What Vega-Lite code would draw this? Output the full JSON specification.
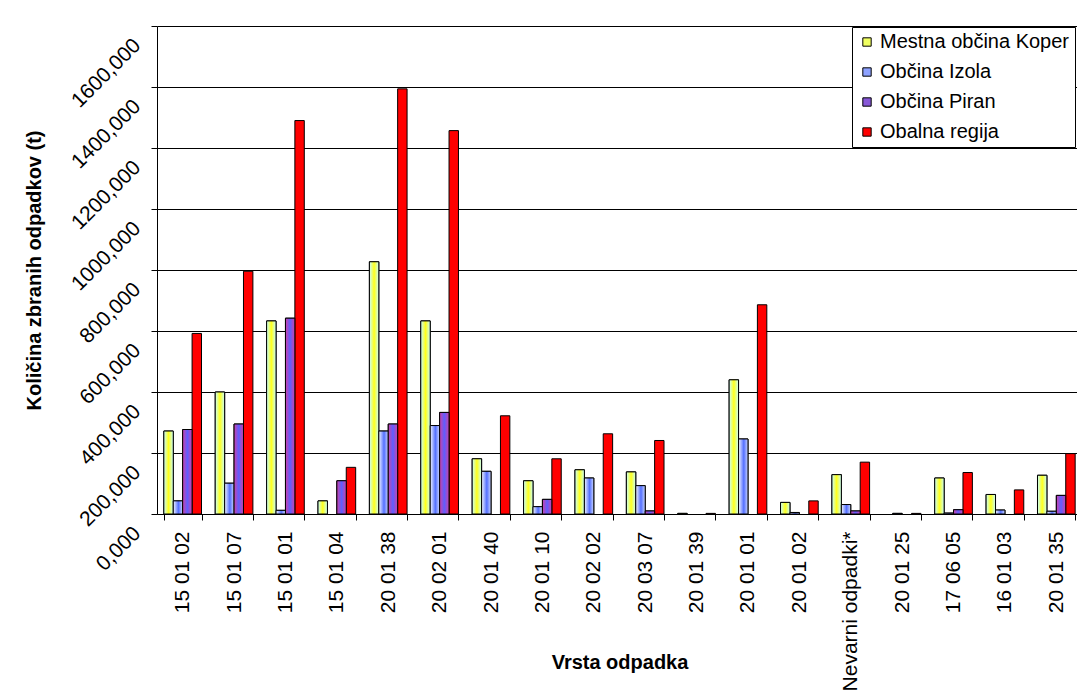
{
  "$schema": "https://vega.github.io/schema/vega-lite/v6.json",
  "autosize": "none",
  "padding": {"left": 157, "top": 26, "right": 0, "bottom": 179},
  "width": 920,
  "height": 488,
  "background": "white",
  "config": {
    "font": "Liberation Sans",
    "view": {"stroke": null},
    "axis": {
      "domainColor": "#000000",
      "tickColor": "#000000",
      "labelColor": "#000000",
      "titleColor": "#000000",
      "labelFont": "Liberation Sans",
      "titleFont": "Liberation Sans",
      "labelFontSize": 21,
      "titleFontSize": 20,
      "titleFontWeight": "bold",
      "tickSize": 6
    }
  },
  "data": {
    "values": [
      {"kod": "15 01 02", "obcina": "Mestna občina Koper", "kolicina": 272},
      {"kod": "15 01 02", "obcina": "Občina Izola", "kolicina": 43},
      {"kod": "15 01 02", "obcina": "Občina Piran", "kolicina": 277},
      {"kod": "15 01 02", "obcina": "Obalna regija", "kolicina": 592},
      {"kod": "15 01 07", "obcina": "Mestna občina Koper", "kolicina": 400},
      {"kod": "15 01 07", "obcina": "Občina Izola", "kolicina": 101},
      {"kod": "15 01 07", "obcina": "Občina Piran", "kolicina": 295},
      {"kod": "15 01 07", "obcina": "Obalna regija", "kolicina": 796},
      {"kod": "15 01 01", "obcina": "Mestna občina Koper", "kolicina": 633},
      {"kod": "15 01 01", "obcina": "Občina Izola", "kolicina": 12},
      {"kod": "15 01 01", "obcina": "Občina Piran", "kolicina": 642},
      {"kod": "15 01 01", "obcina": "Obalna regija", "kolicina": 1290},
      {"kod": "15 01 04", "obcina": "Mestna občina Koper", "kolicina": 43},
      {"kod": "15 01 04", "obcina": "Občina Piran", "kolicina": 109},
      {"kod": "15 01 04", "obcina": "Obalna regija", "kolicina": 153},
      {"kod": "20 01 38", "obcina": "Mestna občina Koper", "kolicina": 827},
      {"kod": "20 01 38", "obcina": "Občina Izola", "kolicina": 272},
      {"kod": "20 01 38", "obcina": "Občina Piran", "kolicina": 295},
      {"kod": "20 01 38", "obcina": "Obalna regija", "kolicina": 1394},
      {"kod": "20 02 01", "obcina": "Mestna občina Koper", "kolicina": 633},
      {"kod": "20 02 01", "obcina": "Občina Izola", "kolicina": 290},
      {"kod": "20 02 01", "obcina": "Občina Piran", "kolicina": 333},
      {"kod": "20 02 01", "obcina": "Obalna regija", "kolicina": 1257},
      {"kod": "20 01 40", "obcina": "Mestna občina Koper", "kolicina": 181},
      {"kod": "20 01 40", "obcina": "Občina Izola", "kolicina": 140},
      {"kod": "20 01 40", "obcina": "Obalna regija", "kolicina": 322},
      {"kod": "20 01 10", "obcina": "Mestna občina Koper", "kolicina": 109},
      {"kod": "20 01 10", "obcina": "Občina Izola", "kolicina": 24},
      {"kod": "20 01 10", "obcina": "Občina Piran", "kolicina": 48},
      {"kod": "20 01 10", "obcina": "Obalna regija", "kolicina": 181},
      {"kod": "20 02 02", "obcina": "Mestna občina Koper", "kolicina": 145},
      {"kod": "20 02 02", "obcina": "Občina Izola", "kolicina": 118},
      {"kod": "20 02 02", "obcina": "Obalna regija", "kolicina": 263},
      {"kod": "20 03 07", "obcina": "Mestna občina Koper", "kolicina": 138},
      {"kod": "20 03 07", "obcina": "Občina Izola", "kolicina": 93},
      {"kod": "20 03 07", "obcina": "Občina Piran", "kolicina": 10},
      {"kod": "20 03 07", "obcina": "Obalna regija", "kolicina": 241},
      {"kod": "20 01 39", "obcina": "Mestna občina Koper", "kolicina": 2},
      {"kod": "20 01 39", "obcina": "Obalna regija", "kolicina": 2},
      {"kod": "20 01 01", "obcina": "Mestna občina Koper", "kolicina": 440},
      {"kod": "20 01 01", "obcina": "Občina Izola", "kolicina": 246},
      {"kod": "20 01 01", "obcina": "Obalna regija", "kolicina": 686},
      {"kod": "20 01 02", "obcina": "Mestna občina Koper", "kolicina": 38},
      {"kod": "20 01 02", "obcina": "Občina Izola", "kolicina": 5},
      {"kod": "20 01 02", "obcina": "Obalna regija", "kolicina": 43},
      {"kod": "Nevarni odpadki*", "obcina": "Mestna občina Koper", "kolicina": 129},
      {"kod": "Nevarni odpadki*", "obcina": "Občina Izola", "kolicina": 31},
      {"kod": "Nevarni odpadki*", "obcina": "Občina Piran", "kolicina": 10},
      {"kod": "Nevarni odpadki*", "obcina": "Obalna regija", "kolicina": 170},
      {"kod": "20 01 25", "obcina": "Občina Izola", "kolicina": 2},
      {"kod": "20 01 25", "obcina": "Obalna regija", "kolicina": 2},
      {"kod": "17 06 05", "obcina": "Mestna občina Koper", "kolicina": 118},
      {"kod": "17 06 05", "obcina": "Občina Izola", "kolicina": 3},
      {"kod": "17 06 05", "obcina": "Občina Piran", "kolicina": 14},
      {"kod": "17 06 05", "obcina": "Obalna regija", "kolicina": 136},
      {"kod": "16 01 03", "obcina": "Mestna občina Koper", "kolicina": 64},
      {"kod": "16 01 03", "obcina": "Občina Izola", "kolicina": 13},
      {"kod": "16 01 03", "obcina": "Obalna regija", "kolicina": 79},
      {"kod": "20 01 35", "obcina": "Mestna občina Koper", "kolicina": 127},
      {"kod": "20 01 35", "obcina": "Občina Izola", "kolicina": 9},
      {"kod": "20 01 35", "obcina": "Občina Piran", "kolicina": 61},
      {"kod": "20 01 35", "obcina": "Obalna regija", "kolicina": 198}
    ]
  },
  "encoding": {
    "x": {
      "field": "kod",
      "type": "nominal",
      "sort": ["15 01 02", "15 01 07", "15 01 01", "15 01 04", "20 01 38", "20 02 01", "20 01 40", "20 01 10", "20 02 02", "20 03 07", "20 01 39", "20 01 01", "20 01 02", "Nevarni odpadki*", "20 01 25", "17 06 05", "16 01 03", "20 01 35"],
      "scale": {"range": [0, 925], "paddingInner": 0.267, "paddingOuter": 0.133},
      "axis": {
        "title": "Vrsta odpadka",
        "labelAngle": -90,
        "labelAlign": "right",
        "labelBaseline": "middle",
        "labelPadding": 11,
        "labelOverlap": false,
        "tickBand": "extent",
        "titleY": 148,
        "titleBaseline": "middle",
        "grid": false
      }
    },
    "xOffset": {
      "field": "obcina",
      "type": "nominal",
      "scale": {"domain": ["Mestna občina Koper", "Občina Izola", "Občina Piran", "Obalna regija"], "paddingInner": 0, "paddingOuter": 0}
    },
    "y": {
      "field": "kolicina",
      "type": "quantitative",
      "scale": {"domain": [0, 1600], "nice": false},
      "axis": {
        "title": "Količina zbranih odpadkov (t)",
        "values": [0, 200, 400, 600, 800, 1000, 1200, 1400, 1600],
        "labelExpr": "replace(format(datum.value, '.3f'), '.', ',')",
        "labelAngle": -45,
        "labelAlign": "right",
        "labelBaseline": "middle",
        "labelPadding": 14,
        "labelOffset": 16,
        "labelOverlap": false,
        "labelBound": false,
        "grid": true,
        "gridColor": "#000000",
        "gridWidth": 1,
        "titleX": -123,
        "titleY": 244,
        "titleAngle": -90,
        "titleAlign": "center",
        "titleBaseline": "middle"
      }
    }
  },
  "layer": [
    {
      "mark": {"type": "bar", "stroke": "#000000", "strokeWidth": 1},
      "encoding": {
        "color": {
          "field": "obcina",
          "type": "nominal",
          "scale": {
            "domain": ["Mestna občina Koper", "Občina Izola", "Občina Piran", "Obalna regija"],
            "range": ["#f0ff60", "#8ea2ff", "#8858d8", "#ff0000"]
          },
          "legend": {
            "title": null,
            "orient": "none",
            "legendX": 695,
            "legendY": 1,
            "fillColor": "#ffffff",
            "strokeColor": "#000000",
            "padding": 5,
            "symbolType": "square",
            "symbolSize": 70,
            "symbolStrokeColor": "#000000",
            "symbolStrokeWidth": 1,
            "symbolOpacity": 1,
            "labelFont": "Liberation Sans",
            "labelFontSize": 20,
            "labelColor": "#000000",
            "labelLimit": 400,
            "labelOffset": 3,
            "rowPadding": 10
          }
        }
      }
    },
    {
      "transform": [{"filter": "datum.obcina === 'Mestna občina Koper'"}],
      "mark": {
        "type": "bar",
        "stroke": "#000000",
        "strokeWidth": 1,
        "color": {"gradient": "linear", "x1": 0, "y1": 0, "x2": 1, "y2": 0, "stops": [{"offset": 0, "color": "#c8ffff"}, {"offset": 0.5, "color": "#ffff1a"}, {"offset": 1, "color": "#c8ffff"}]}
      }
    },
    {
      "transform": [{"filter": "datum.obcina === 'Občina Izola'"}],
      "mark": {
        "type": "bar",
        "stroke": "#000000",
        "strokeWidth": 1,
        "color": {"gradient": "linear", "x1": 0, "y1": 0, "x2": 1, "y2": 0, "stops": [{"offset": 0, "color": "#f2f5ff"}, {"offset": 0.55, "color": "#5470ff"}, {"offset": 1, "color": "#ccd8ff"}]}
      }
    },
    {
      "transform": [{"filter": "datum.obcina === 'Občina Piran'"}],
      "mark": {
        "type": "bar",
        "stroke": "#000000",
        "strokeWidth": 1,
        "color": {"gradient": "linear", "x1": 0, "y1": 0, "x2": 1, "y2": 0, "stops": [{"offset": 0, "color": "#d040a8"}, {"offset": 0.5, "color": "#5e5eff"}, {"offset": 1, "color": "#d040a8"}]}
      }
    }
  ]
}
